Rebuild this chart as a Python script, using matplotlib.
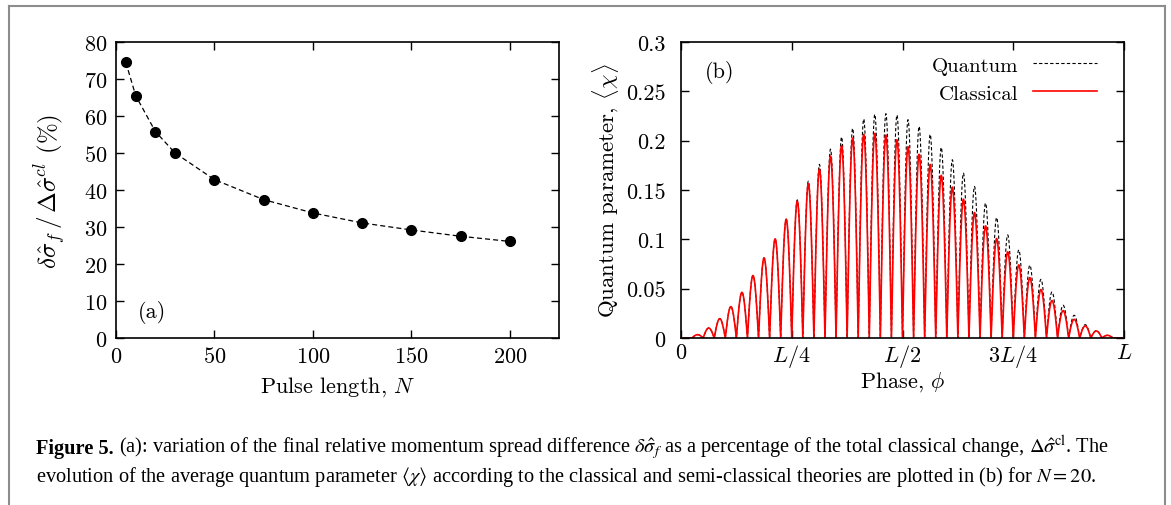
import numpy as np
import matplotlib.pyplot as plt
from matplotlib.lines import Line2D

plt.rcParams['font.family'] = 'cmr10'
plt.rcParams['mathtext.fontset'] = 'cm'
plt.rcParams['axes.formatter.use_mathtext'] = True

# panel (a): momentum spread difference vs pulse length
pulse_length = [5, 10, 20, 30, 50, 75, 100, 125, 150, 175, 200]
spread_pct = [74.5, 65.5, 55.8, 50.0, 42.8, 37.4, 33.8, 31.1, 29.2, 27.5, 26.1]

# panel (b): peak height of each half-cycle lobe of <chi> (N = 20 -> 40 lobes)
chi_classical = [0.0, 0.0034, 0.0101, 0.0196, 0.0318, 0.0463, 0.0633, 0.0812,
                 0.1005, 0.1204, 0.1387, 0.1563, 0.1712, 0.1844, 0.1949, 0.2026,
                 0.2064, 0.2074, 0.2057, 0.2010, 0.1939, 0.1861, 0.1759, 0.1648,
                 0.1529, 0.1407, 0.1272, 0.1137, 0.1008, 0.0873, 0.0741, 0.0612,
                 0.0491, 0.0379, 0.0277, 0.0189, 0.0122, 0.0071, 0.0027, 0.0]
chi_quantum = [0.0, 0.0034, 0.0101, 0.0196, 0.0318, 0.0463, 0.0633, 0.0812,
               0.1005, 0.1204, 0.1400, 0.1590, 0.1760, 0.1915, 0.2037, 0.2125,
               0.2220, 0.2267, 0.2274, 0.2260, 0.2213, 0.2145, 0.2064, 0.1932,
               0.1807, 0.1671, 0.1536, 0.1367, 0.1221, 0.1045, 0.0893, 0.0738,
               0.0595, 0.0467, 0.0332, 0.0230, 0.0135, 0.0074, 0.0027, 0.0]

phase_ticks = [0, 0.25, 0.5, 0.75, 1.0]
phase_labels = ['0', '$L/4$', '$L/2$', '$3L/4$', '$L$']
chi_ticks = [0, 0.05, 0.1, 0.15, 0.2, 0.25, 0.3]
chi_labels = ['0', '0.05', '0.1', '0.15', '0.2', '0.25', '0.3']


def lobes(peaks):
    n = len(peaks)
    t = np.linspace(0, 1, 41)
    xs, ys = [], []
    for k, h in enumerate(peaks):
        xs.append((k + t) / n)
        ys.append(h * np.abs(np.sin(np.pi * t)))
    return np.concatenate(xs), np.concatenate(ys)


W, H = 1171, 506
fig = plt.figure(figsize=(W / 100, H / 100), dpi=100)

ax1 = fig.add_axes([116 / W, 1 - 339 / H, 443 / W, 296 / H])
ax2 = fig.add_axes([681 / W, 1 - 339 / H, 443 / W, 296 / H])

ax1.plot(pulse_length, spread_pct, '--', color='black', lw=0.9, dashes=(4, 2.5))
ax1.plot(pulse_length, spread_pct, 'o', color='black', ms=7)
ax1.set_xlim(0, 225)
ax1.set_ylim(0, 80)
ax1.set_xticks([0, 50, 100, 150, 200])
ax1.set_yticks(range(0, 81, 10))
ax1.set_xlabel('Pulse length, $N$', fontsize=16, labelpad=6)
ax1.set_ylabel(r'$\delta\hat{\sigma}_f\,/\,\Delta\hat{\sigma}^{cl}$ (%)', fontsize=18, labelpad=11)
ax1.text(0.05, 0.09, '(a)', transform=ax1.transAxes, fontsize=16, va='center')

xq, yq = lobes(chi_quantum)
xc, yc = lobes(chi_classical)
ax2.plot(xq, yq, '--', color='black', lw=0.8, dashes=(3, 2), label='Quantum')
ax2.plot(xc, yc, '-', color='#ff0000', lw=1.2, label='Classical')
ax2.set_xlim(0, 1)
ax2.set_ylim(0, 0.3)
ax2.set_xticks(phase_ticks)
ax2.set_xticklabels(phase_labels)
ax2.set_yticks(chi_ticks)
ax2.set_yticklabels(chi_labels)
ax2.set_xlabel(r'Phase, $\phi$', fontsize=16, labelpad=0)
ax2.set_ylabel(r'Quantum parameter, $\langle\chi\rangle$', fontsize=16.5, labelpad=4)
ax2.text(0.054, 0.9, '(b)', transform=ax2.transAxes, fontsize=16, va='center')
ax2.legend(loc='upper right', bbox_to_anchor=(0.94, 0.952), frameon=False,
           markerfirst=False, borderaxespad=0, borderpad=0, fontsize=15,
           handlelength=3.1, handletextpad=0.7, labelspacing=0.45)

for ax in (ax1, ax2):
    ax.tick_params(direction='in', top=True, right=True, length=6, width=1,
                   labelsize=16, pad=6)
    for s in ax.spines.values():
        s.set_linewidth(1.2)
ax2.tick_params(axis='x', pad=3)
ax2.tick_params(axis='y', pad=11)

# frame around the figure
gray = '#8c8c8c'
fig.add_artist(Line2D([8.5 / W, 8.5 / W], [0, 1 - 6.5 / H], transform=fig.transFigure, color=gray, lw=1.5))
fig.add_artist(Line2D([8.5 / W, 1165 / W], [1 - 6.5 / H, 1 - 6.5 / H], transform=fig.transFigure, color=gray, lw=1.5))
fig.add_artist(Line2D([1165 / W, 1165 / W], [0, 1 - 6.5 / H], transform=fig.transFigure, color=gray, lw=1.5))

# caption
cap_bold = 'Figure 5.'
cap_rest1 = (r' (a): variation of the final relative momentum spread difference $\delta\hat{\sigma}_f$'
             r' as a percentage of the total classical change, $\Delta\hat{\sigma}^{\mathrm{cl}}$. The')
cap_line2 = (r'evolution of the average quantum parameter $\langle\chi\rangle$ according to the classical'
             r' and semi-classical theories are plotted in (b) for $N = 20$.')
cap_kw = dict(family='Liberation Serif', math_fontfamily='stix', va='baseline')

size = 12
renderer = fig.canvas.get_renderer()
t1 = fig.text(36 / W, 1 - 454 / H, cap_bold, fontsize=size, weight='bold', **cap_kw)
t2 = fig.text(0, 1 - 454 / H, cap_rest1, fontsize=size, **cap_kw)
w_total = t1.get_window_extent(renderer).width + t2.get_window_extent(renderer).width
size = size * (1107 - 36) / w_total
t1.set_fontsize(size)
t2.set_fontsize(size)
w1 = t1.get_window_extent(renderer).width
t2.set_x((36 + w1) / W)
fig.text(36 / W, 1 - 482 / H, cap_line2, fontsize=size, **cap_kw)

fig.savefig('out.png', dpi=100)
